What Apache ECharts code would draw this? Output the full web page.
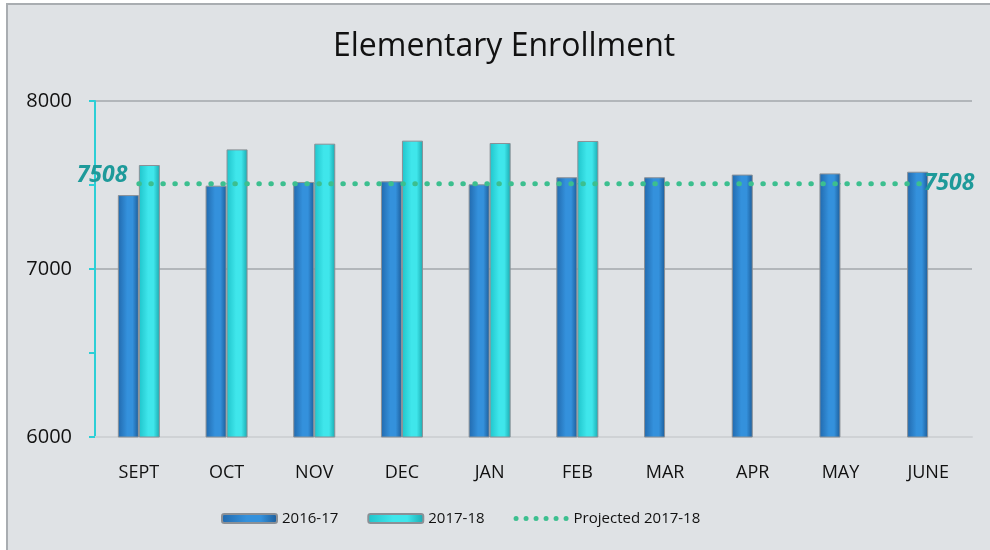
<!DOCTYPE html>
<html>
<head>
<meta charset="utf-8">
<script src="https://cdn.jsdelivr.net/npm/echarts@6/dist/echarts.min.js"></script>
<style>
  html, body { margin: 0; padding: 0; background: #fff; }
  #enroll { width: 990px; height: 550px; }
</style>
</head>
<body>
<div id="enroll"></div>
<script>
// 数据
var months = ['SEPT', 'OCT', 'NOV', 'DEC', 'JAN', 'FEB', 'MAR', 'APR', 'MAY', 'JUNE'];
var year1617 = [7440, 7496, 7518, 7522, 7504, 7546, 7546, 7562, 7569, 7579];
var year1718 = [7619, 7712, 7746, 7764, 7750, 7762, null, null, null, null];
var projected = [7508, 7508, 7508, 7508, 7508, 7508, 7508, 7508, 7508, 7508];
var yTicks = [6000, 7000, 8000];

var myChart = echarts.init(document.getElementById('enroll'));

// 圆柱效果的渐变
function barGrad(left, mid, right) {
    return new echarts.graphic.LinearGradient(0, 0, 1, 0, [
        { offset: 0, color: left },
        { offset: 0.45, color: mid },
        { offset: 0.7, color: mid },
        { offset: 1, color: right }
    ]);
}

// 图例里的点线图标 (六个圆点)
var dotIcon = 'path://M0,0Z M55,9Z';
for (var k = 0; k < 6; k++) {
    var cx = 2.5 + k * 10;
    dotIcon += ' M' + (cx - 2.5) + ',4.5a2.5,2.5 0 1,0 5,0a2.5,2.5 0 1,0 -5,0Z';
}

var projData = projected.map(function (v, i) {
    var item = { value: v };
    if (i === 0) {
        item.label = { show: true, position: 'left', distance: 11, offset: [0, -8] };
    } else if (i === projected.length - 1) {
        item.label = { show: true, position: 'right', distance: 0, offset: [-5, 0] };
    }
    return item;
});

var option = {
    backgroundColor: '#fff',
    textStyle: { fontFamily: 'Open Sans' },
    graphic: [{
        type: 'rect',
        z: -10,
        silent: true,
        shape: { x: 7, y: 4, width: 1000, height: 600 },
        style: { fill: '#dfe2e5', stroke: '#a9adb1', lineWidth: 2 }
    }],
    title: {
        text: 'Elementary Enrollment',
        left: 333,
        top: 31,
        padding: 0,
        textStyle: { fontSize: 32, fontWeight: 'normal', color: '#111', fontFamily: 'Open Sans' }
    },
    legend: {
        bottom: 19,
        left: 216,
        itemWidth: 55,
        itemHeight: 9,
        itemGap: 29,
        textStyle: { fontSize: 15, color: '#111' },
        data: ['2016-17', '2017-18', { name: 'Projected 2017-18', icon: dotIcon }]
    },
    grid: {
        left: 95,
        right: 18,
        top: 101,
        bottom: 113,
        containLabel: false
    },
    xAxis: {
        type: 'category',
        data: months,
        axisLine: { show: true, lineStyle: { color: '#cfd2d5', width: 2 } },
        axisTick: { show: false },
        axisLabel: { fontSize: 18, color: '#111', margin: 27 }
    },
    yAxis: {
        type: 'value',
        min: yTicks[0],
        max: yTicks[yTicks.length - 1],
        interval: 1000,
        axisLine: { show: true, lineStyle: { color: '#2ccfd6', width: 2 } },
        axisTick: { show: true, inside: false, length: 6, lineStyle: { color: '#2ccfd6', width: 2 } },
        minorTick: { show: true, splitNumber: 2, length: 6, lineStyle: { color: '#2ccfd6', width: 2 } },
        splitLine: { show: true, lineStyle: { color: '#a3a7ab', width: 1.5 } },
        axisLabel: {
            fontSize: 20,
            color: '#111',
            margin: 23,
            formatter: function (v) { return String(v); }
        }
    },
    series: [{
        name: '2016-17',
        type: 'bar',
        data: year1617,
        barWidth: 21,
        barGap: '0%',
        itemStyle: {
            color: barGrad('#2169ad', '#3491dc', '#1b5b98'),
            borderColor: '#8b9096',
            borderWidth: 1
        }
    }, {
        name: '2017-18',
        type: 'bar',
        data: year1718,
        barWidth: 21,
        barGap: '0%',
        itemStyle: {
            color: barGrad('#1fc4cb', '#3fe6eb', '#19a9b0'),
            borderColor: '#8b9096',
            borderWidth: 1
        }
    }, {
        name: 'Projected 2017-18',
        type: 'line',
        data: projData,
        symbol: 'circle',
        symbolSize: 1,
        showSymbol: true,
        itemStyle: { color: '#3cbf8f' },
        lineStyle: { color: '#3cbf8f', width: 5, type: [0.5, 11.5], cap: 'round' },
        label: {
            show: false,
            formatter: '{c}',
            fontSize: 23,
            fontWeight: 'bold',
            fontStyle: 'italic',
            color: '#1e9a9a',
            fontFamily: 'Open Sans'
        },
        z: 5
    }]
};

myChart.setOption(option);
window.addEventListener('resize', function () { myChart.resize(); });
</script>
</body>
</html>
